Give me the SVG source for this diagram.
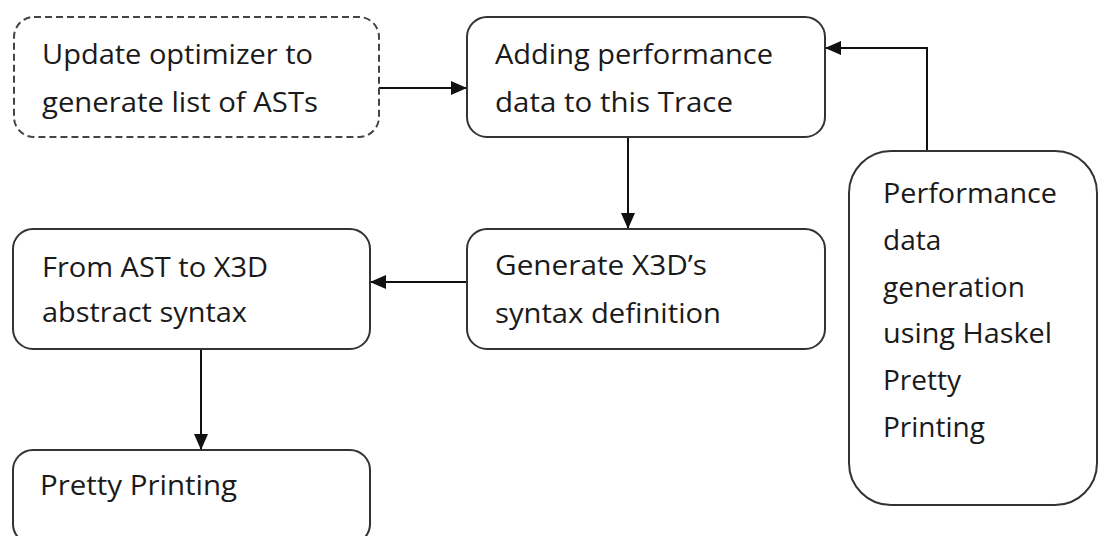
<svg xmlns="http://www.w3.org/2000/svg" width="1099" height="536" viewBox="0 0 1099 536">
  <style>
    .box { fill: #ffffff; stroke: #333333; stroke-width: 2; }
    .dashed { stroke-dasharray: 7 4; stroke: #444444; }
    .label { font-family: "Open Sans", "Liberation Sans", sans-serif; font-size: 28px; fill: #1a1a1a; }
    .wire { fill: none; stroke: #111111; stroke-width: 2; }
  </style>
  <defs>
    <marker id="arrow" viewBox="0 0 16 14" refX="16" refY="7" markerWidth="16" markerHeight="14" markerUnits="userSpaceOnUse" orient="auto">
      <path d="M0,0 L16,7 L0,14 Z" fill="#111111"/>
    </marker>
  </defs>

  <rect width="1099" height="536" fill="#ffffff"/>

  <!-- connectors -->
  <g id="connectors">
    <line class="wire" x1="379" y1="88" x2="467" y2="88" marker-end="url(#arrow)"/>
    <polyline class="wire" points="927,151 927,48 825,48" marker-end="url(#arrow)"/>
    <line class="wire" x1="628" y1="137" x2="628" y2="229" marker-end="url(#arrow)"/>
    <line class="wire" x1="467" y1="282" x2="370" y2="282" marker-end="url(#arrow)"/>
    <line class="wire" x1="201" y1="349" x2="201" y2="450" marker-end="url(#arrow)"/>
  </g>

  <g id="update-optimizer">
    <rect class="box dashed" x="14" y="17" width="365" height="120" rx="20"/>
    <text class="label" x="42" y="64" textLength="271" lengthAdjust="spacingAndGlyphs">Update optimizer to</text>
    <text class="label" x="42" y="112" textLength="276" lengthAdjust="spacingAndGlyphs">generate list of ASTs</text>
  </g>

  <g id="adding-performance">
    <rect class="box" x="467" y="17" width="358" height="120" rx="20"/>
    <text class="label" x="495" y="64" textLength="278" lengthAdjust="spacingAndGlyphs">Adding performance</text>
    <text class="label" x="495" y="112" textLength="238" lengthAdjust="spacingAndGlyphs">data to this Trace</text>
  </g>

  <g id="performance-generation">
    <rect class="box" x="849" y="151" width="248" height="354" rx="42"/>
    <text class="label" x="883" y="203" textLength="174" lengthAdjust="spacingAndGlyphs">Performance</text>
    <text class="label" x="883" y="250">data</text>
    <text class="label" x="883" y="297">generation</text>
    <text class="label" x="883" y="343" textLength="169" lengthAdjust="spacingAndGlyphs">using Haskel</text>
    <text class="label" x="883" y="390">Pretty</text>
    <text class="label" x="883" y="437">Printing</text>
  </g>

  <g id="generate-x3d">
    <rect class="box" x="467" y="229" width="358" height="120" rx="20"/>
    <text class="label" x="495" y="275" textLength="212" lengthAdjust="spacingAndGlyphs">Generate X3D’s</text>
    <text class="label" x="495" y="323" textLength="226" lengthAdjust="spacingAndGlyphs">syntax definition</text>
  </g>

  <g id="ast-to-x3d">
    <rect class="box" x="13" y="229" width="357" height="120" rx="20"/>
    <text class="label" x="42" y="277" textLength="226" lengthAdjust="spacingAndGlyphs">From AST to X3D</text>
    <text class="label" x="42" y="322" textLength="205" lengthAdjust="spacingAndGlyphs">abstract syntax</text>
  </g>

  <g id="pretty-printing">
    <rect class="box" x="13" y="450" width="357" height="94" rx="20"/>
    <text class="label" x="40" y="495" textLength="197" lengthAdjust="spacingAndGlyphs">Pretty Printing</text>
  </g>
</svg>
